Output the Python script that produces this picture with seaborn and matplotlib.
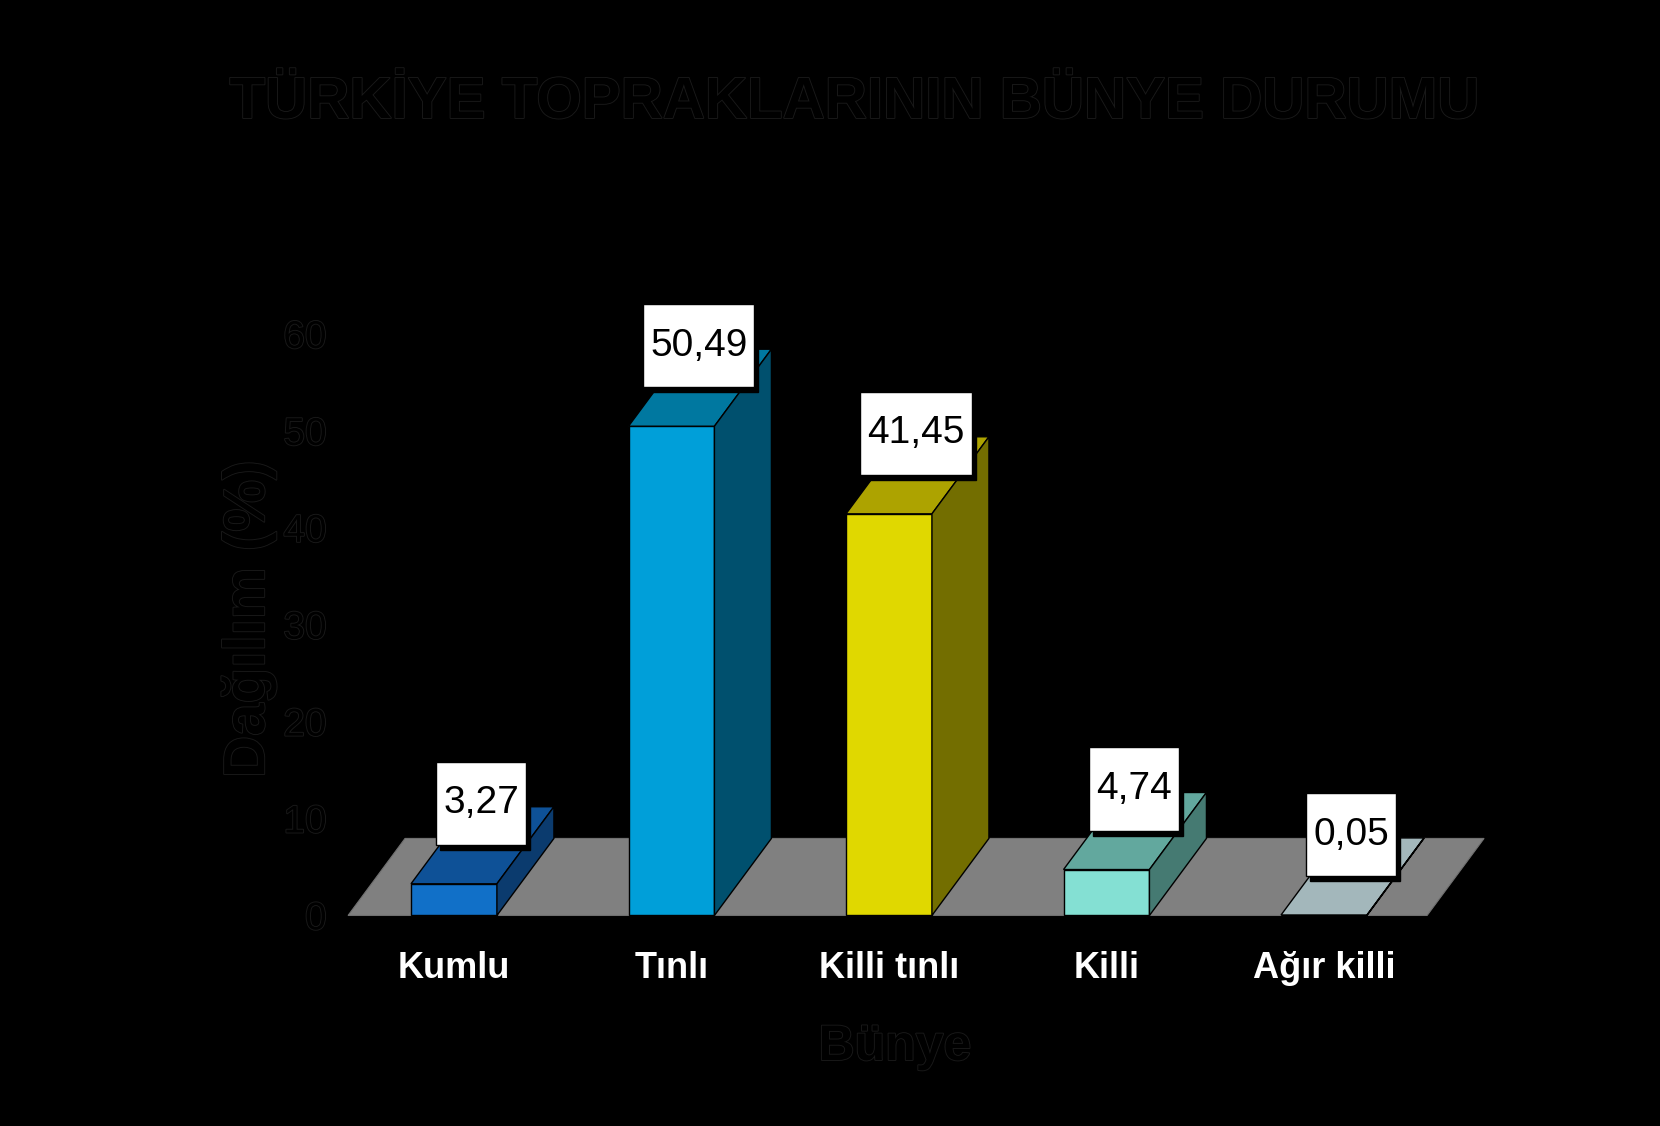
import matplotlib
matplotlib.use("Agg")
import matplotlib.pyplot as plt
import matplotlib.patheffects as pe
from matplotlib.patches import Polygon, Rectangle
import seaborn as sns
import pandas as pd

# ---- data ----
categories = ["Kumlu", "Tınlı", "Killi tınlı", "Killi", "Ağır killi"]
values = [3.27, 50.49, 41.45, 4.74, 0.05]
yticks = [0, 10, 20, 30, 40, 50, 60]
title = "TÜRKİYE TOPRAKLARININ BÜNYE DURUMU"
xlabel = "Bünye"
ylabel = "Dağılım (%)"

front_colors = ["#1170C8", "#009FD9", "#E0D800", "#84E0D3", "#A8BCC0"]
top_colors = ["#0E5197", "#0078A0", "#ADA300", "#62A89E", "#A3B7BB"]
side_colors = ["#0B3B6E", "#00506E", "#736E00", "#457A72", "#7D8D91"]

sns.set_theme(style="white")
plt.rcParams["font.family"] = ["Liberation Sans", "DejaVu Sans"]

fig = plt.figure(figsize=(16.6, 11.26), dpi=100, facecolor="black")
ax = fig.add_axes([0.2018, 0.1741, 0.7018, 0.5595])
ax.set_facecolor("black")

df = pd.DataFrame({"cat": categories, "val": values})
bar_w = 0.395
dx, dy = 0.262, 7.95  # 3D depth offset (category units, value units)

sns.barplot(data=df, x="cat", y="val", hue="cat", palette=dict(zip(categories, front_colors)),
            legend=False, width=bar_w, saturation=1, edgecolor="black", linewidth=1.0,
            ax=ax, zorder=3)

ax.set_xlim(-0.547, 4.809)
ax.set_ylim(-1.496, 63.52)

# floor
n = len(categories)
x0, x1 = -0.487, n - 1 + 0.474
ax.add_patch(Polygon([(x0, 0), (x1, 0), (x1 + dx, dy), (x0 + dx, dy)], closed=True,
                     facecolor="#808080", edgecolor="#707070", linewidth=0.8, zorder=1))

# 3D top and side faces
for i, (v, tc, sc) in enumerate(zip(values, top_colors, side_colors)):
    l, r = i - bar_w / 2, i + bar_w / 2
    ax.add_patch(Polygon([(l, v), (r, v), (r + dx, v + dy), (l + dx, v + dy)], closed=True,
                         facecolor=tc, edgecolor="black", linewidth=1.0, zorder=3))
    ax.add_patch(Polygon([(r, 0), (r + dx, dy), (r + dx, v + dy), (r, v)], closed=True,
                         facecolor=sc, edgecolor="black", linewidth=1.0, zorder=3))

# value labels in white boxes with shadow
box_off_x, box_off_y, box_h = 0.125, 4.0, 8.6
texts = []
for i, v in enumerate(values):
    lab = f"{v:.2f}".replace(".", ",")
    t = ax.text(i + box_off_x, v + box_off_y + box_h / 2, lab, ha="center", va="center",
                fontsize=28, color="black", zorder=7)
    texts.append(t)

fig.canvas.draw()
renderer = fig.canvas.get_renderer()
inv = ax.transData.inverted()
px_per_x = (inv.transform((100, 0))[0] - inv.transform((0, 0))[0]) / 100.0
px_per_y = (inv.transform((0, 100))[1] - inv.transform((0, 0))[1]) / 100.0
for i, (v, t) in enumerate(zip(values, texts)):
    w = (t.get_window_extent(renderer).width + 14) * px_per_x
    cx = i + box_off_x
    ax.add_patch(Rectangle((cx - w / 2 + 4 * px_per_x, v + box_off_y - 5 * px_per_y), w, box_h,
                           facecolor="black", edgecolor="black", zorder=5, clip_on=False))
    ax.add_patch(Rectangle((cx - w / 2, v + box_off_y), w, box_h, facecolor="white",
                           edgecolor="black", linewidth=1.0, zorder=6, clip_on=False))

faint = [pe.withStroke(linewidth=1.3, foreground="#1a1a1a")]

ax.set_yticks(yticks)
ax.set_yticklabels([str(t) for t in yticks], fontsize=28, color="black")
for t in ax.get_yticklabels():
    t.set_path_effects(faint)
ax.tick_params(axis="y", length=0, pad=6)
ax.tick_params(axis="x", length=0, pad=15)
ax.set_xticks(range(n))
ax.set_xticklabels(categories, fontsize=26, fontweight="bold", color="white")
ax.set_xlabel("")
ax.set_ylabel("")
for s in ax.spines.values():
    s.set_visible(False)
ax.grid(False)

fig.text(855 / 1660, 1 - 103 / 1126, title, ha="center", va="center", fontsize=42,
         fontweight="bold", color="black", path_effects=faint)
fig.text(895 / 1660, 1 - 1047 / 1126, xlabel, ha="center", va="center", fontsize=36,
         fontweight="bold", color="black", path_effects=faint)
fig.text(249 / 1660, 1 - 619 / 1126, ylabel, ha="center", va="center", fontsize=42,
         fontweight="bold", color="black", rotation=90, path_effects=faint)

fig.savefig("out.png", dpi=100, facecolor="black")
